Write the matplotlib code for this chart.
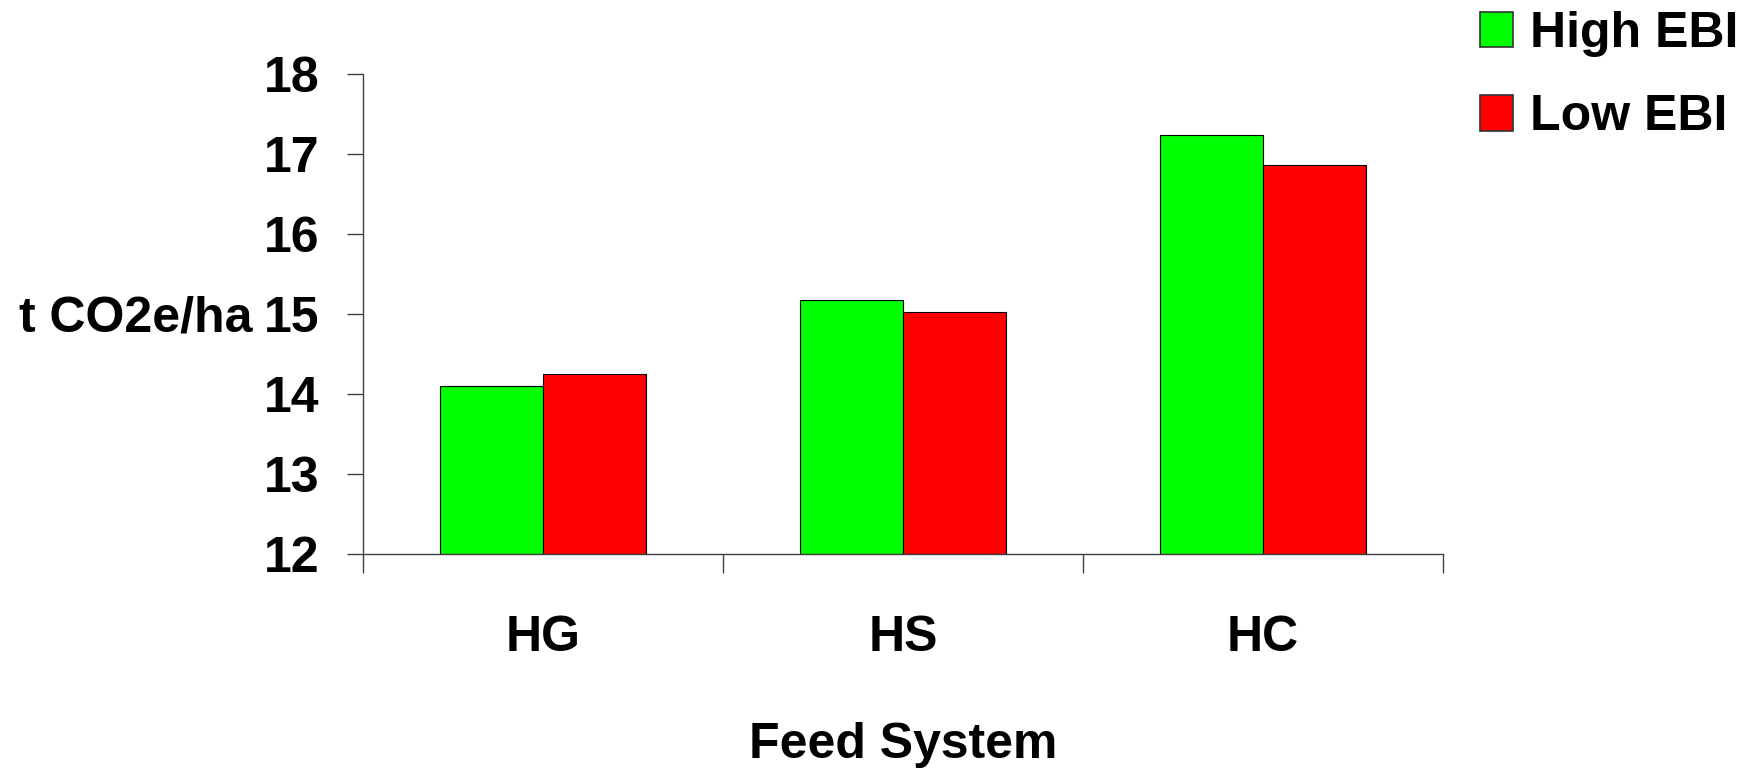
import matplotlib.pyplot as plt
from matplotlib.patches import Patch
import numpy as np

# data
systems = ["HG", "HS", "HC"]
high_ebi = [14.09, 15.17, 17.23]
low_ebi = [14.25, 15.02, 16.86]
yticks = [12, 13, 14, 15, 16, 17, 18]

plt.rcParams['font.family'] = ['Liberation Sans', 'DejaVu Sans']
plt.rcParams['font.weight'] = 'bold'

W, H = 1744, 771
fig = plt.figure(figsize=(W / 100, H / 100), dpi=100)

# axes box in pixels: x 363..1443, y 73.5..553.5
ax = fig.add_axes([363 / W, 1 - 553.5 / H, (1443 - 363) / W, (553.5 - 73.5) / H])

x = np.arange(len(systems))
bw = 0.285
ax.bar(x - bw / 2, np.array(high_ebi) - 12, bw, bottom=12, color="#00ff00",
       edgecolor="black", linewidth=0.8, label="High EBI")
ax.bar(x + bw / 2, np.array(low_ebi) - 12, bw, bottom=12, color="#ff0000",
       edgecolor="black", linewidth=0.8, label="Low EBI")

ax.set_xlim(-0.5, len(systems) - 0.5)
ax.set_ylim(12, 18)

axis_col = "#404040"
for side in ["top", "right"]:
    ax.spines[side].set_visible(False)
for side in ["left", "bottom"]:
    ax.spines[side].set_color(axis_col)
    ax.spines[side].set_linewidth(1.0)

fs = 36
ax.set_yticks(yticks)
ax.set_yticklabels([str(t) for t in yticks], fontsize=fs, fontweight="bold")
ax.tick_params(axis="y", direction="out", length=11.3, width=1.0, color=axis_col, pad=20)

# major x ticks at group boundaries, labels on minor ticks at centres
ax.set_xticks(np.arange(-0.5, len(systems), 1.0))
ax.set_xticklabels([])
ax.tick_params(axis="x", which="major", direction="out", length=13.7, width=1.0, color=axis_col)
ax.set_xticks(x, minor=True)
ax.set_xticklabels(systems, minor=True, fontsize=fs, fontweight="bold")
ax.tick_params(axis="x", which="minor", length=0, pad=44)

ax.set_xlabel("Feed System", fontsize=fs, fontweight="bold", labelpad=44)
ax.set_ylabel("t CO2e/ha", fontsize=fs, fontweight="bold", rotation=0,
              ha="right", va="center")
ax.yaxis.set_label_coords(-0.1025, 0.49)

handles = [Patch(facecolor="#00ff00", edgecolor="#333333", linewidth=1.2),
           Patch(facecolor="#ff0000", edgecolor="#333333", linewidth=1.2)]
fig.legend(handles, ["High EBI", "Low EBI"], loc="upper left",
           bbox_to_anchor=(1480 / W, 1 - 11 / H), frameon=False,
           prop={"size": fs, "weight": "bold"}, borderpad=0, borderaxespad=0,
           handlelength=0.66, handleheight=0.72, handletextpad=0.33,
           labelspacing=0.75)

fig.savefig("out.png", dpi=100)
